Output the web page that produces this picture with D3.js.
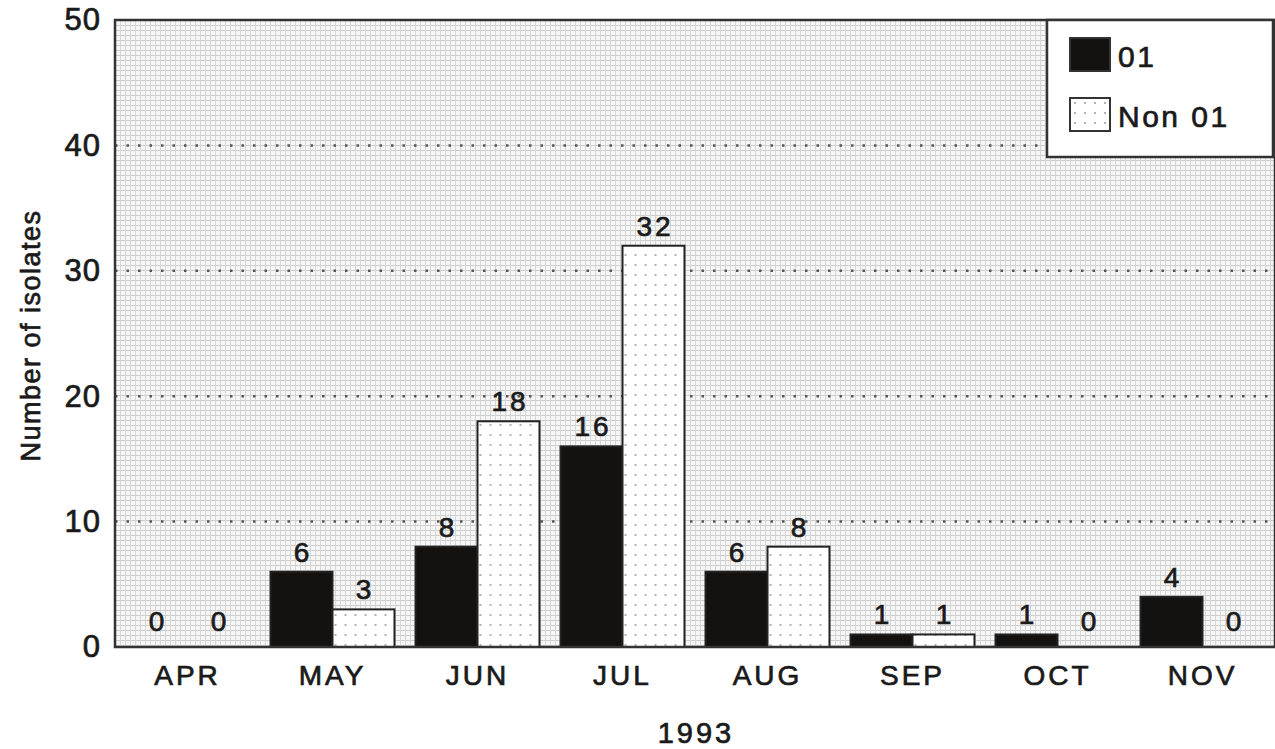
<!DOCTYPE html>
<html>
<head>
<meta charset="utf-8">
<script src="https://cdn.jsdelivr.net/npm/d3@7"></script>
<style>
  body { margin: 0; background: #fff; }
  svg { display: block; font-family: "Liberation Sans", Arial, sans-serif; }
</style>
</head>
<body>
<div id="chart"></div>
<script>
const months = ["APR", "MAY", "JUN", "JUL", "AUG", "SEP", "OCT", "NOV"];
const series = ["01", "Non 01"];
const o1 = [0, 6, 8, 16, 6, 1, 1, 4];
const non01 = [0, 3, 18, 32, 8, 1, 0, 0];
const yTicks = [0, 10, 20, 30, 40, 50];

const width = 1275, height = 749;
const margin = {top: 20, right: 0, bottom: 102, left: 115};
const innerW = width - margin.left - margin.right;
const innerH = height - margin.top - margin.bottom;

// scanned print look: wide, slightly heavy lettering
function ink(sel, size, spacing) {
    sel.attr("font-size", size)
        .attr("letter-spacing", spacing)
        .attr("fill", "#1a1a1a")
        .attr("stroke", "#1a1a1a")
        .attr("stroke-width", 0.7)
        .attr("font-family", "'Liberation Sans', Arial, sans-serif");
}

const svg = d3.select("#chart").append("svg")
    .attr("width", width)
    .attr("height", height);

const defs = svg.append("defs");

// fine grid texture of the printed background
const grid = defs.append("pattern")
    .attr("id", "bggrid")
    .attr("patternUnits", "userSpaceOnUse")
    .attr("width", 5).attr("height", 5);
grid.append("rect").attr("width", 5).attr("height", 5).attr("fill", "#f6f6f6");
grid.append("line").attr("x1", 0).attr("y1", 0.5).attr("x2", 5).attr("y2", 0.5)
    .attr("stroke", "#cdcdcd").attr("stroke-width", 1);
grid.append("line").attr("x1", 0.5).attr("y1", 0).attr("x2", 0.5).attr("y2", 5)
    .attr("stroke", "#d6d6d6").attr("stroke-width", 1);

// dotted fill of the Non 01 bars
const dots = defs.append("pattern")
    .attr("id", "dots")
    .attr("patternUnits", "userSpaceOnUse")
    .attr("width", 10).attr("height", 10);
dots.append("rect").attr("width", 10).attr("height", 10).attr("fill", "#fff");
dots.append("circle").attr("cx", 5).attr("cy", 5).attr("r", 1).attr("fill", "#9a9a9a");

const g = svg.append("g").attr("transform", `translate(${margin.left},${margin.top})`);

const x0 = d3.scaleBand().domain(months).range([0, innerW])
    .paddingInner(0.145).paddingOuter(0.0725);
const x1 = d3.scaleBand().domain(series).range([0, x0.bandwidth()]);
const y = d3.scaleLinear().domain([0, 50]).range([innerH, 0]);

g.append("rect")
    .attr("width", innerW).attr("height", innerH)
    .attr("fill", "url(#bggrid)");

// dotted horizontal reference lines
g.append("g").selectAll("line")
    .data(yTicks.filter(d => d > 0 && d < 50))
    .join("line")
    .attr("x1", 0).attr("x2", innerW)
    .attr("y1", d => y(d)).attr("y2", d => y(d))
    .attr("stroke", "#555")
    .attr("stroke-width", 2.5)
    .attr("stroke-dasharray", "2.5 9");

const rows = months.map((m, i) => ({month: m, values: [
    {key: "01", v: o1[i]},
    {key: "Non 01", v: non01[i]}
]}));

const grp = g.append("g").selectAll("g")
    .data(rows)
    .join("g")
    .attr("transform", d => `translate(${x0(d.month)},0)`);

grp.selectAll("rect")
    .data(d => d.values.filter(v => v.v > 0))
    .join("rect")
    .attr("x", d => x1(d.key))
    .attr("y", d => y(d.v))
    .attr("width", x1.bandwidth())
    .attr("height", d => y(0) - y(d.v))
    .attr("fill", d => d.key === "01" ? "#141111" : "url(#dots)")
    .attr("stroke", "#222")
    .attr("stroke-width", 2);

grp.selectAll("text")
    .data(d => d.values)
    .join("text")
    .attr("x", d => x1(d.key) + x1.bandwidth() / 2 + 1.5)
    .attr("y", d => d.v === 0 ? y(0) - 16 : y(d.v) - 10)
    .attr("text-anchor", "middle")
    .text(d => d.v)
    .call(ink, 28, 3);

// frame
g.append("rect")
    .attr("width", innerW).attr("height", innerH)
    .attr("fill", "none")
    .attr("stroke", "#333")
    .attr("stroke-width", 2.5);

// y axis
const yAxis = g.append("g")
    .call(d3.axisLeft(y).tickValues(yTicks).tickSize(0).tickPadding(14));
yAxis.select(".domain").remove();
yAxis.selectAll("text").call(ink, 31, 1);

// x axis
const xAxis = g.append("g")
    .attr("transform", `translate(0,${innerH})`)
    .call(d3.axisBottom(x0).tickSize(0).tickPadding(18));
xAxis.select(".domain").remove();
xAxis.selectAll("text").call(ink, 28, 3);

svg.append("text")
    .attr("x", margin.left + innerW / 2 + 1)
    .attr("y", 743)
    .attr("text-anchor", "middle")
    .text("1993")
    .call(ink, 29, 3);

svg.append("text")
    .attr("transform", `translate(40,${margin.top + innerH / 2 + 2}) rotate(-90)`)
    .attr("text-anchor", "middle")
    .text("Number of isolates")
    .call(ink, 27, 1.5);

// legend
const legend = svg.append("g").attr("transform", "translate(1047,20)");
legend.append("rect")
    .attr("width", 226).attr("height", 137)
    .attr("fill", "#fff")
    .attr("stroke", "#333")
    .attr("stroke-width", 2.5);

const li = legend.selectAll("g.item")
    .data(series)
    .join("g")
    .attr("class", "item")
    .attr("transform", (d, i) => `translate(23,${18 + i * 60})`);
li.append("rect")
    .attr("width", 40).attr("height", 33)
    .attr("fill", d => d === "01" ? "#141111" : "url(#dots)")
    .attr("stroke", "#333")
    .attr("stroke-width", 2);
li.append("text")
    .attr("x", 48).attr("y", 29)
    .text(d => d)
    .call(ink, 30, 2.5);
</script>
</body>
</html>
